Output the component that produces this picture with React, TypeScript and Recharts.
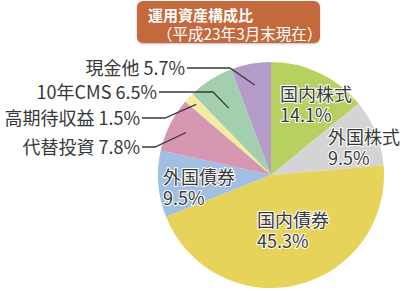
import { PieChart, Pie, Cell } from "recharts";

const categories = ["国内株式", "外国株式", "国内債券", "外国債券", "代替投資", "高期待収益", "10年CMS", "現金他"];
const shares = [14.1, 9.5, 45.3, 9.5, 7.8, 1.5, 6.5, 5.7];
const colors = ["#b6d15f", "#d4d4d4", "#e8d35a", "#a0bfe3", "#d597b1", "#f4eca1", "#a4cfae", "#b59bc8"];

const data = categories.map((name, i) => ({ name, value: shares[i] }));

const FONT = '"Noto Sans CJK JP", "Noto Sans", sans-serif';
const TEXT = "#383838";
const RAD = Math.PI / 180;

// inside labels: offset of first line from pie center
const inside: Record<number, { dx: number; dy: number }> = {
  0: { dx: 9, dy: -81 },
  1: { dx: 57, dy: -38 },
  2: { dx: -14, dy: 45 },
  3: { dx: -108, dy: 2 },
};

// outside labels: pointer depth, elbow x, row y, text end x (relative to center)
const outside: Record<number, { frac: number; ex: number; ry: number; tx: number }> = {
  4: { frac: 0.84, ex: -116, ry: -28, tx: -131 },
  5: { frac: 0.91, ex: -106, ry: -57, tx: -131 },
  6: { frac: 0.7, ex: -58, ry: -83, tx: -114 },
  7: { frac: 0.81, ex: -41, ry: -107, tx: -86 },
};

function renderLabel(props: any) {
  const { cx, cy, midAngle, outerRadius, index } = props;
  const name = categories[index];
  const pct = `${shares[index].toFixed(1)}%`;
  const textStyle = {
    fontFamily: FONT,
    fontSize: 18,
    fill: TEXT,
    stroke: "#fff",
    strokeWidth: 2,
    paintOrder: "stroke" as const,
  };
  if (inside[index]) {
    const { dx, dy } = inside[index];
    const x = cx + dx;
    return (
      <text key={`l${index}`} x={x} y={cy + dy + 7} style={textStyle}>
        <tspan x={x}>{name}</tspan>
        <tspan x={x} dy={21}>{pct}</tspan>
      </text>
    );
  }
  const o = outside[index];
  const r = outerRadius * o.frac;
  const px = cx + r * Math.cos(-midAngle * RAD);
  const py = cy + r * Math.sin(-midAngle * RAD);
  const rowY = cy + o.ry;
  return (
    <g key={`l${index}`}>
      <polyline
        points={`${cx + o.tx + 2},${rowY} ${cx + o.ex},${rowY} ${px},${py}`}
        fill="none"
        stroke={TEXT}
        strokeWidth={1.3}
      />
      <text x={cx + o.tx} y={rowY + 7} textAnchor="end" style={textStyle}>
        {`${name} ${pct}`}
      </text>
    </g>
  );
}

export default function App() {
  return (
    <div style={{ position: "absolute", left: 0, top: 0, width: 404, height: 291, background: "#fff", overflow: "hidden" }}>
      <div
        style={{
          position: "absolute",
          left: 137,
          top: 1,
          width: 183,
          height: 42,
          background: "#c4693c",
          borderRadius: 6,
          boxShadow: "0 1px 2px rgba(0,0,0,0.25)",
          color: "#fff",
          fontFamily: FONT,
          fontSize: 15,
          lineHeight: "18px",
        }}
      >
        <div style={{ position: "absolute", left: 11, top: 5, fontWeight: 700 }}>運用資産構成比</div>
        <div style={{ position: "absolute", left: 20, top: 23, fontSize: 15.5 }}>（平成23年3月末現在）</div>
      </div>
      <PieChart
        width={404}
        height={291}
        margin={{ top: 0, right: 0, bottom: 0, left: 0 }}
        style={{ position: "absolute", left: 0, top: 0 }}
      >
        <Pie
          data={data}
          dataKey="value"
          nameKey="name"
          cx={271}
          cy={175}
          outerRadius={113}
          startAngle={90}
          endAngle={-270}
          stroke="none"
          label={renderLabel}
          labelLine={false}
          isAnimationActive={false}
        >
          {data.map((d, i) => (
            <Cell key={d.name} fill={colors[i]} />
          ))}
        </Pie>
      </PieChart>
    </div>
  );
}
